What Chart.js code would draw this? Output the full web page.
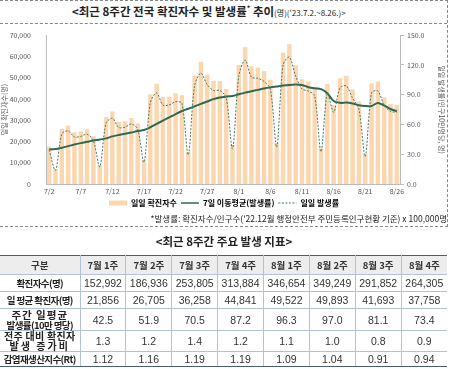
<!DOCTYPE html>
<html>
<head>
<meta charset="utf-8">
<script src="https://cdn.jsdelivr.net/npm/chart.js@4.4.0/dist/chart.umd.min.js"></script>
<style>
  body { margin: 0; background: #fff; font-family: "Noto Sans CJK KR", sans-serif; color: #222; }
  #box { position: absolute; left: 0; top: 0; width: 447px; height: 225px;
         border-top: 1px dashed #888; border-right: 1px dashed #888; border-bottom: 1px dashed #888; }
  #title { position: absolute; left: 72px; top: 3px; white-space: nowrap; font-weight: bold; font-size: 11.5px; }
  #title small { font-weight: normal; font-size: 8px; }
  #titleLine { position: absolute; left: 0; top: 23px; width: 447px; border-top: 1px dashed #888; }
  #wrap { position: absolute; left: 0; top: 24px; width: 448px; height: 193px; }
  #note { position: absolute; right: 3px; top: 212px; font-size: 8.5px; white-space: nowrap; color: #222; }
  #sub { position: absolute; left: 0; width: 448px; top: 233px; text-align: center; font-weight: bold; font-size: 11.5px; }
  table { position: absolute; left: 0; top: 255px; width: 447px; border-collapse: collapse; table-layout: fixed; }
  td, th { border: 1px solid #b4c2d8; text-align: center; padding: 0; font-size: 10.5px;
           font-family: "Liberation Sans", Arial, sans-serif; color: #333; font-weight: normal; }
  tr:first-child th { border-top: 1px solid #4a5a78; background: #ededed; font-family: "Noto Sans CJK KR", sans-serif;
           font-weight: bold; font-size: 9.5px; height: 18px; }
  tr:last-child td, tr:last-child th { border-bottom: 1px solid #4a5a78; }
  th.rl { font-family: "Noto Sans CJK KR", sans-serif; font-weight: bold; font-size: 9.5px; letter-spacing: -0.6px; line-height: 10px; color: #222; }
  td:last-child, th:last-child { border-right: none; }
  td:first-child, th:first-child { border-left: none; }
</style>
</head>
<body>
<div id="box"></div>
<div id="title">&lt;최근 8주간 전국 확진자수 및 발생률<sup style="font-size:7px">*</sup> 추이<small>(명)('23.7.2.~8.26.)&gt;</small></div>
<div id="titleLine"></div>
<div id="wrap"><canvas id="chart"></canvas></div>
<div id="note">*발생률: 확진자수/인구수('22.12월 행정안전부 주민등록인구현황 기준) x 100,000명</div>
<div id="sub">&lt;최근 8주간 주요 발생 지표&gt;</div>
<table id="tbl"></table>

<script>
const dates = ['7/2','7/3','7/4','7/5','7/6','7/7','7/8','7/9','7/10','7/11','7/12','7/13','7/14','7/15',
  '7/16','7/17','7/18','7/19','7/20','7/21','7/22','7/23','7/24','7/25','7/26','7/27','7/28','7/29',
  '7/30','7/31','8/1','8/2','8/3','8/4','8/5','8/6','8/7','8/8','8/9','8/10','8/11','8/12',
  '8/13','8/14','8/15','8/16','8/17','8/18','8/19','8/20','8/21','8/22','8/23','8/24','8/25','8/26'];

// 일일 확진자수
const cases = [17600, 7100, 25900, 27500, 24400, 24700, 25800,
  22500, 8900, 31500, 34100, 29300, 29500, 31100,
  28500, 11300, 42200, 47200, 40900, 41000, 42700,
  41800, 15200, 50900, 57500, 51500, 48500, 48500,
  44700, 18300, 56000, 64300, 55400, 54800, 53200,
  49000, 19200, 61800, 65800, 55900, 49300, 48200,
  45700, 16700, 47000, 37200, 49800, 50900, 44500,
  38800, 14300, 47300, 48200, 40800, 37600, 37300];

// 일일 발생률 (10만명당)
const dailyRate = [34.2, 13.8, 50.4, 53.5, 47.4, 48.0, 50.2,
  43.7, 17.3, 61.2, 66.3, 57.0, 57.3, 60.5,
  55.4, 22.0, 82.0, 91.8, 79.5, 79.7, 83.0,
  81.3, 29.5, 99.0, 111.8, 100.1, 94.3, 94.3,
  86.9, 35.6, 108.9, 125.0, 107.7, 106.5, 103.4,
  95.3, 37.3, 120.1, 127.9, 108.7, 95.8, 93.7,
  88.8, 32.5, 91.4, 72.3, 96.8, 98.9, 86.5,
  75.4, 27.8, 92.0, 93.7, 79.3, 73.1, 72.5];

// 7일 이동평균(발생률)
const movingAvg = [34.9, 35.2, 36.6, 38.2, 39.8, 41.2, 42.5,
  43.8, 44.8, 46.0, 48.0, 49.4, 50.6, 51.9,
  53.4, 54.5, 57.2, 60.6, 63.9, 67.2, 70.5,
  73.6, 75.8, 78.2, 80.8, 83.2, 85.6, 87.2,
  88.1, 88.8, 90.5, 92.1, 93.5, 94.9, 96.3,
  97.4, 98.3, 99.2, 99.9, 100.2, 99.8, 97.6,
  96.4, 95.6, 91.4, 83.6, 81.8, 82.1, 81.1,
  79.3, 78.6, 78.7, 81.7, 79.2, 75.6, 73.4];

// 주요 발생 지표 표
const weeks = ['7월 1주','7월 2주','7월 3주','7월 4주','8월 1주','8월 2주','8월 3주','8월 4주'];
const weeklyCases = ['152,992','186,936','253,805','313,884','346,654','349,249','291,852','264,305'];
const dailyAvgCases = ['21,856','26,705','36,258','44,841','49,522','49,893','41,693','37,758'];
const weeklyRate = ['42.5','51.9','70.5','87.2','96.3','97.0','81.1','73.4'];
const growthRatio = ['1.3','1.2','1.4','1.2','1.1','1.0','0.8','0.9'];
const rtValues = ['1.12','1.16','1.19','1.19','1.09','1.04','0.91','0.94'];

const rows = [
  ['확진자수(명)', weeklyCases, 17],
  ['일 평균 확진자(명)', dailyAvgCases, 17],
  ['<span style="font-size:10.5px;letter-spacing:1px">주간 일평균</span><br>발생률(10만 명당)', weeklyRate, 22],
  ['<span style="font-size:10px;letter-spacing:0.3px">전주 대비 확진자</span><br><span style="font-size:10px;letter-spacing:2px">발생 증가비</span>', growthRatio, 21],
  ['감염재생산지수(Rt)', rtValues, 15]
];

let html = '<colgroup><col style="width:80px">' + weeks.map(() => '<col>').join('') + '</colgroup>';
html += '<tr style="height:19px"><th>구분</th>' + weeks.map(w => '<th>' + w + '</th>').join('') + '</tr>';
rows.forEach(r => {
  html += '<tr style="height:' + r[2] + 'px"><th class="rl">' + r[0] + '</th>' +
    r[1].map(v => '<td>' + v + '</td>').join('') + '</tr>';
});
document.getElementById('tbl').innerHTML = html;

const tickFont = { family: "'Noto Sans CJK KR', sans-serif", size: 7 };
const greyText = '#555';

const ctx = document.getElementById('chart').getContext('2d');
new Chart(ctx, {
  data: {
    labels: dates,
    datasets: [
      {
        type: 'line', label: '7일 이동평균(발생률)', data: movingAvg, yAxisID: 'y1',
        borderColor: '#2c6a52', borderWidth: 2, pointRadius: 0, tension: 0.3, order: 1
      },
      {
        type: 'line', label: '일일 발생률', data: dailyRate, yAxisID: 'y1',
        borderColor: '#3f7d68', borderWidth: 1, borderDash: [2, 1.5], pointRadius: 0, tension: 0.3, order: 0
      },
      {
        type: 'bar', label: '일일 확진자수', data: cases, yAxisID: 'y',
        backgroundColor: '#fbd6ae', barPercentage: 0.7, categoryPercentage: 1, order: 2
      }
    ]
  },
  options: {
    responsive: true,
    maintainAspectRatio: false,
    animation: false,
    layout: { padding: { top: 3, bottom: 0 } },
    plugins: {
      tooltip: { enabled: false },
      legend: {
        position: 'bottom',
        labels: {
          font: { family: "'Noto Sans CJK KR', sans-serif", size: 8, weight: 'bold' },
          color: '#333',
          usePointStyle: true,
          pointStyleWidth: 18,
          boxHeight: 6,
          padding: 4,
          sort: (a, b) => [2, 0, 1].indexOf(a.datasetIndex) - [2, 0, 1].indexOf(b.datasetIndex),
          generateLabels: (chart) => chart.data.datasets.map((ds, i) => ({
            text: ds.label,
            datasetIndex: i,
            pointStyle: 'line',
            fillStyle: ds.type === 'bar' ? ds.backgroundColor : ds.borderColor,
            strokeStyle: ds.type === 'bar' ? ds.backgroundColor : ds.borderColor,
            lineWidth: ds.type === 'bar' ? 5 : (ds.borderDash ? 1 : 1.5),
            lineDash: ds.borderDash || [],
            hidden: false
          }))
        }
      }
    },
    scales: {
      x: {
        offset: true,
        grid: { display: false, drawTicks: false },
        border: { color: '#bbb' },
        ticks: {
          font: tickFont, color: greyText, autoSkip: false, maxRotation: 0, padding: 3,
          callback: function (v, i) { return i % 5 === 0 ? dates[i] : ''; }
        },
        afterFit: (s) => { s.height = 11; }
      },
      y: {
        position: 'left', min: 0, max: 70000,
        grid: { display: false },
        border: { color: '#bbb' },
        ticks: {
          stepSize: 10000, font: tickFont, color: greyText, padding: 7,
          callback: (v) => v.toLocaleString('en-US')
        },
        title: { display: true, text: '일일 확진자수(명)', font: tickFont, color: greyText, padding: 0 },
        afterFit: (s) => { s.width = 46; }
      },
      y1: {
        position: 'right', min: 0, max: 150,
        grid: { drawOnChartArea: false, color: '#bbb', tickLength: 4 },
        border: { color: '#bbb' },
        ticks: {
          stepSize: 30, font: tickFont, color: greyText, padding: 3,
          callback: (v) => v.toFixed(1)
        },
        title: { display: true, text: '일일 발생률(인구10만명당, 명)', font: tickFont, color: greyText, padding: 2 },
        afterFit: (s) => { s.width = 48; }
      }
    }
  }
});
</script>
</body>
</html>
